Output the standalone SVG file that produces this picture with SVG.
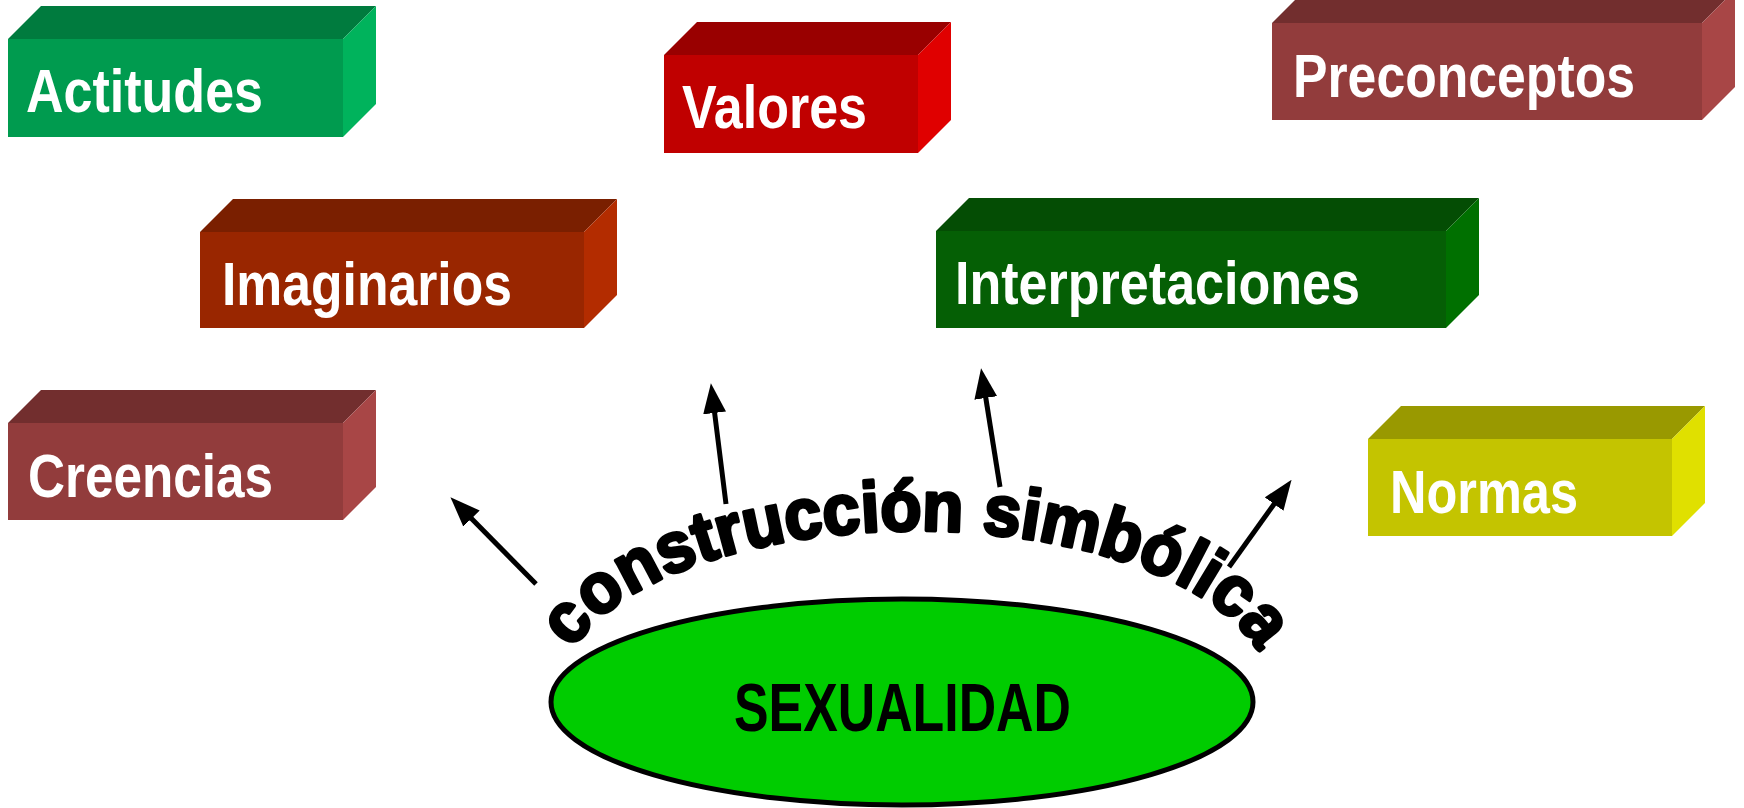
<svg xmlns="http://www.w3.org/2000/svg" width="1744" height="808" viewBox="0 0 1744 808">
<style>
.lbl{font-family:"Liberation Sans",Arial,sans-serif;font-weight:bold;font-size:62px;fill:#fff}
.arc{font-family:"Liberation Sans",Arial,sans-serif;font-weight:bold;font-size:71px;fill:#000;stroke:#000;stroke-width:3.5px;stroke-linejoin:round}
.sx{font-family:"Liberation Sans",Arial,sans-serif;font-weight:bold;font-size:69px;fill:#000}
.shaft{stroke:#000;stroke-width:5;fill:none}
</style>
<defs>
<marker id="ah" markerWidth="6" markerHeight="4.6" refX="1" refY="2.3" orient="auto" markerUnits="strokeWidth">
<path d="M0,0 L6,2.3 L0,4.6 Z" fill="#000"/>
</marker>
<path id="arcpath" d="M 573,650 A 354 161 0 0 1 1257,650"/>
</defs>
<rect width="1744" height="808" fill="#fff"/>

<g id="actitudes">
<polygon points="8,39 41,6 376,6 343,39" fill="#007B3E"/>
<polygon points="343,39 376,6 376,104 343,137" fill="#00B35C"/>
<rect x="8" y="39" width="335" height="98" fill="#009B4F"/>
<text class="lbl" x="26" y="112" textLength="237" lengthAdjust="spacingAndGlyphs">Actitudes</text>
</g>

<g id="valores">
<polygon points="664,55 697,22 951,22 918,55" fill="#990000"/>
<polygon points="918,55 951,22 951,120 918,153" fill="#E00000"/>
<rect x="664" y="55" width="254" height="98" fill="#C00000"/>
<text class="lbl" x="682" y="128" textLength="185" lengthAdjust="spacingAndGlyphs">Valores</text>
</g>

<g id="preconceptos">
<polygon points="1272,23 1305,-10 1735,-10 1702,23" fill="#722E2E"/>
<polygon points="1702,23 1735,-10 1735,87 1702,120" fill="#A84646"/>
<rect x="1272" y="23" width="430" height="97" fill="#923C3C"/>
<text class="lbl" x="1293" y="97" textLength="342" lengthAdjust="spacingAndGlyphs">Preconceptos</text>
</g>

<g id="imaginarios">
<polygon points="200,232 233,199 617,199 584,232" fill="#7A1F00"/>
<polygon points="584,232 617,199 617,295 584,328" fill="#B32C00"/>
<rect x="200" y="232" width="384" height="96" fill="#992600"/>
<text class="lbl" x="222" y="305" textLength="290" lengthAdjust="spacingAndGlyphs">Imaginarios</text>
</g>

<g id="interpretaciones">
<polygon points="936,231 969,198 1479,198 1446,231" fill="#044D04"/>
<polygon points="1446,231 1479,198 1479,295 1446,328" fill="#007000"/>
<rect x="936" y="231" width="510" height="97" fill="#055F05"/>
<text class="lbl" x="955" y="304" textLength="405" lengthAdjust="spacingAndGlyphs">Interpretaciones</text>
</g>

<g id="creencias">
<polygon points="8,423 41,390 376,390 343,423" fill="#722E2E"/>
<polygon points="343,423 376,390 376,487 343,520" fill="#A84646"/>
<rect x="8" y="423" width="335" height="97" fill="#923C3C"/>
<text class="lbl" x="28" y="497" textLength="245" lengthAdjust="spacingAndGlyphs">Creencias</text>
</g>

<g id="normas">
<polygon points="1368,439 1401,406 1705,406 1672,439" fill="#999900"/>
<polygon points="1672,439 1705,406 1705,503 1672,536" fill="#E0E000"/>
<rect x="1368" y="439" width="304" height="97" fill="#C4C400"/>
<text class="lbl" x="1390" y="513" textLength="188" lengthAdjust="spacingAndGlyphs">Normas</text>
</g>

<g id="sexualidad">
<ellipse cx="902" cy="702" rx="351" ry="103" fill="#00CC00" stroke="#000" stroke-width="5"/>
<text class="sx" x="734" y="731" textLength="337" lengthAdjust="spacingAndGlyphs">SEXUALIDAD</text>
</g>

<g id="label-construccion">
<text class="arc"><textPath href="#arcpath" textLength="752" lengthAdjust="spacingAndGlyphs">construcción simbólica</textPath></text>
</g>

<g id="connectors">
<line class="shaft" x1="536" y1="584" x2="468" y2="515" marker-end="url(#ah)"/>
<line class="shaft" x1="726" y1="504" x2="714" y2="408" marker-end="url(#ah)"/>
<line class="shaft" x1="1000" y1="487" x2="985" y2="393" marker-end="url(#ah)"/>
<line class="shaft" x1="1229" y1="567" x2="1277" y2="500" marker-end="url(#ah)"/>
</g>
</svg>
